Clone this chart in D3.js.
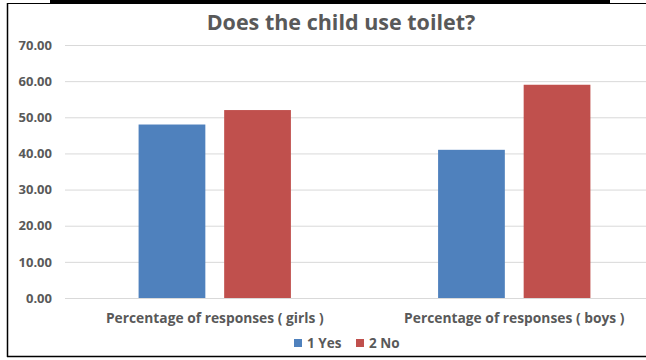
<!DOCTYPE html>
<html>
<head>
<meta charset="utf-8">
<script src="https://cdn.jsdelivr.net/npm/d3@7"></script>
<style>
  html, body { margin: 0; padding: 0; background: #fff; }
  svg { display: block; }
</style>
</head>
<body>
<svg id="chart" width="646" height="360"></svg>
<script>
// Survey answers: share of responses (%) per group
const categories = ["Percentage of responses ( girls )", "Percentage of responses ( boys )"];
const seriesNames = ["1 Yes", "2 No"];
const yesValues = [48.0, 41.0];
const noValues = [52.0, 59.0];
const yTicks = [0, 10, 20, 30, 40, 50, 60, 70];
const titleText = "Does the child use toilet?";

const colors = { "1 Yes": "#4F81BD", "2 No": "#C0504D" };
const textColor = "#595959";
const font = "'Open Sans', sans-serif";

const rows = categories.map((c, i) => ({ category: c, "1 Yes": yesValues[i], "2 No": noValues[i] }));

const svg = d3.select("#chart");
const W = 646, H = 360;

// frame lines around the chart area
const frame = svg.append("g").attr("stroke", "#000").attr("fill", "none");
frame.append("line").attr("x1", 7.5).attr("x2", 7.5).attr("y1", 3).attr("y2", 357).attr("stroke-width", 1.5);
frame.append("line").attr("x1", 7).attr("x2", W).attr("y1", 356.5).attr("y2", 356.5).attr("stroke-width", 1.5);
frame.append("line").attr("x1", 7).attr("x2", W).attr("y1", 3.5).attr("y2", 3.5).attr("stroke-width", 1);
frame.append("rect").attr("x", 50).attr("y", 0).attr("width", 560).attr("height", 3.5).attr("fill", "#000").attr("stroke", "none");
[50, 129, 250, 429, 609].forEach(x => {
  frame.append("line").attr("x1", x + 0.5).attr("x2", x + 0.5).attr("y1", 0).attr("y2", 4);
});

const plot = { left: 65, right: 664, top: 45, bottom: 298 };

const y = d3.scaleLinear().domain([0, 70]).range([plot.bottom, plot.top]);
const x0 = d3.scaleBand().domain(categories).range([plot.left, plot.right]).paddingInner(0).paddingOuter(0);
const x1 = d3.scaleBand().domain(seriesNames).range([0, x0.bandwidth()]).paddingInner(0.22).paddingOuter(0.86);

// gridlines
const grid = svg.append("g")
  .call(d3.axisLeft(y).tickValues(yTicks).tickSize(-(W - plot.left)).tickFormat(""));
grid.select(".domain").remove();
grid.selectAll(".tick line")
  .attr("transform", `translate(${plot.left},0)`)
  .attr("stroke", "#D9D9D9").attr("stroke-width", 1);

// y tick labels
const yAxis = svg.append("g")
  .attr("transform", `translate(${plot.left - 13},0)`)
  .call(d3.axisLeft(y).tickValues(yTicks).tickSize(0).tickPadding(0).tickFormat(d3.format(".2f")));
yAxis.select(".domain").remove();
yAxis.selectAll("text")
  .attr("fill", textColor)
  .style("font-family", font).style("font-size", "13px").style("font-weight", "bold");

// bars
const groups = svg.append("g").selectAll("g")
  .data(rows).join("g")
  .attr("transform", d => `translate(${x0(d.category)},0)`);
groups.selectAll("rect")
  .data(d => seriesNames.map(k => ({ key: k, value: d[k] })))
  .join("rect")
  .attr("x", d => x1(d.key))
  .attr("width", x1.bandwidth())
  .attr("y", d => y(d.value))
  .attr("height", d => y(0) - y(d.value))
  .attr("fill", d => colors[d.key]);

// category labels
const xAxis = svg.append("g")
  .attr("transform", `translate(0,${plot.bottom + 15})`)
  .call(d3.axisBottom(x0).tickSize(0).tickPadding(0));
xAxis.select(".domain").remove();
xAxis.selectAll("text")
  .attr("fill", textColor)
  .style("font-family", font).style("font-size", "13.8px").style("font-weight", "bold");

// title
svg.append("text")
  .attr("x", 341).attr("y", 30)
  .attr("text-anchor", "middle")
  .attr("fill", textColor)
  .style("font-family", font).style("font-size", "21.5px").style("font-weight", "bold")
  .text(titleText);

// legend
const legend = svg.append("g").attr("transform", "translate(294,343)");
const legendX = [0, 62];
seriesNames.forEach((s, i) => {
  const g = legend.append("g").attr("transform", `translate(${legendX[i]},0)`);
  g.append("rect").attr("x", 0).attr("y", -4).attr("width", 8).attr("height", 8).attr("fill", colors[s]);
  g.append("text").attr("x", 13).attr("y", 0).attr("dy", "0.35em")
    .attr("fill", textColor)
    .style("font-family", font).style("font-size", "13.5px").style("font-weight", "bold")
    .text(s);
});
</script>
</body>
</html>
